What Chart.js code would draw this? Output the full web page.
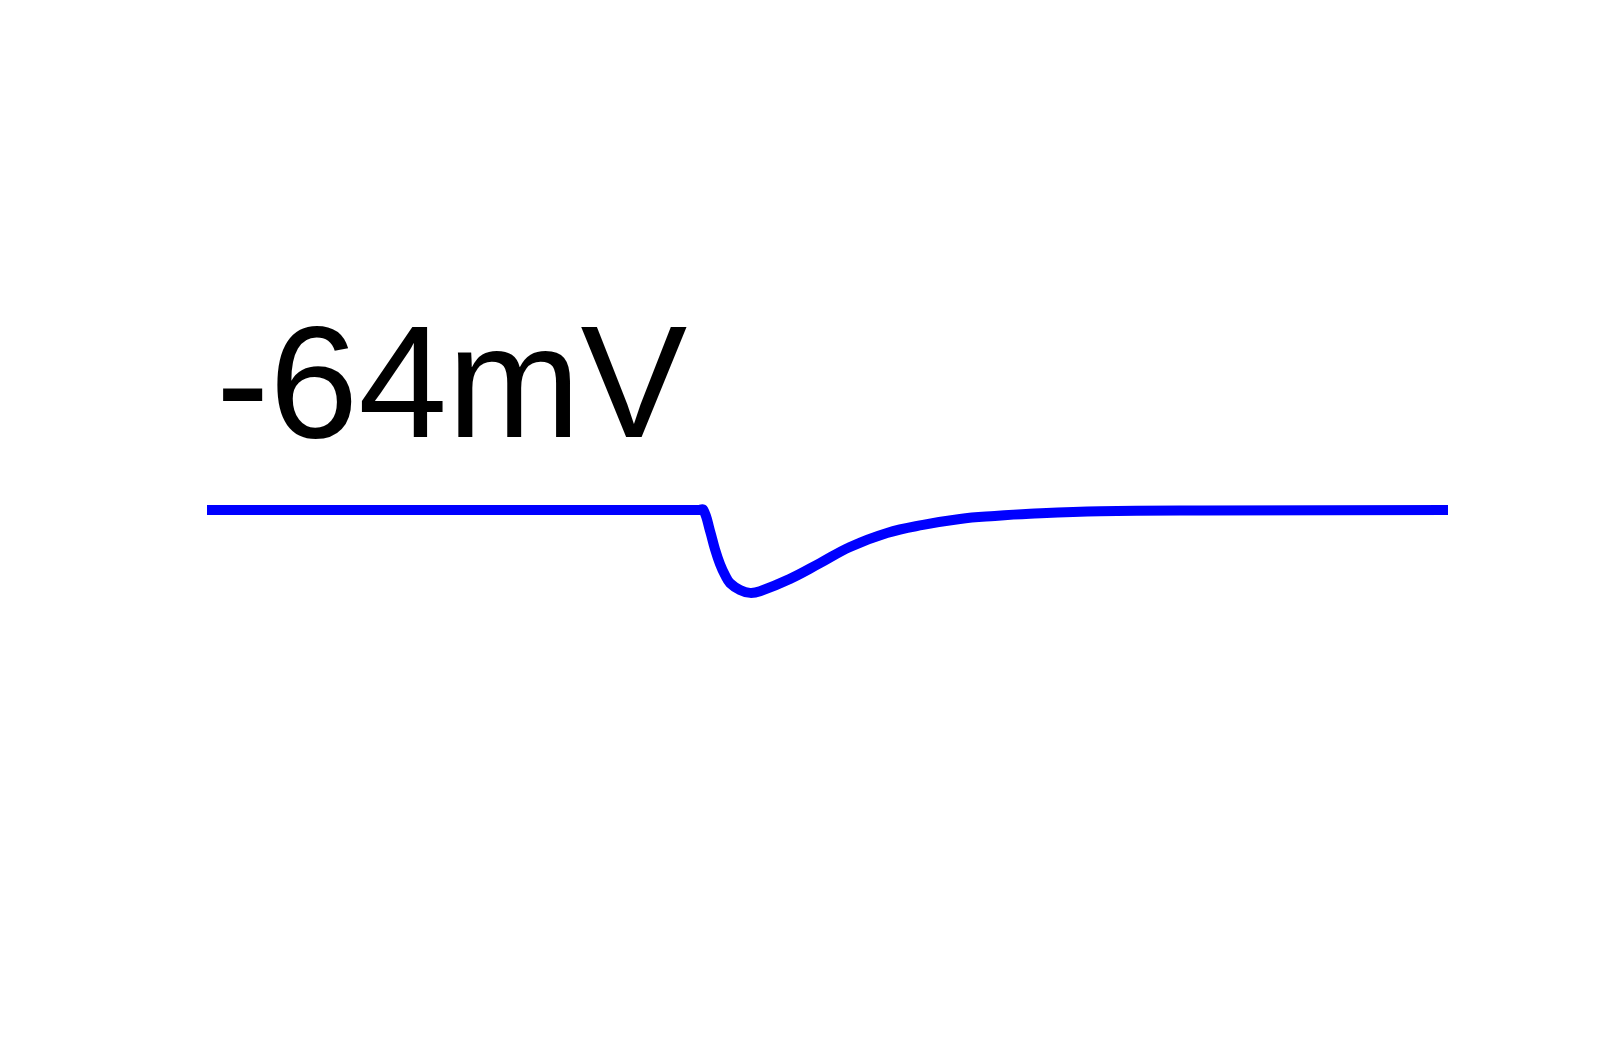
<!DOCTYPE html>
<html>
<head>
<meta charset="utf-8">
<script src="https://cdn.jsdelivr.net/npm/chart.js@4"></script>
<style>
  html, body { margin: 0; padding: 0; background: #fff; }
  #wrap { width: 1600px; height: 1049px; }
</style>
</head>
<body>
<div id="wrap"><canvas id="trace" width="1600" height="1049"></canvas></div>
<script>
// membrane potential trace, time in ms, voltage in mV
const times = [0, 99, 100, 101.33, 102.33, 103.34, 104.35, 105.36, 107.37, 109.39, 111.4, 117.45, 123.49, 129.53, 136.99, 144.24, 151.69, 158.7, 165.79, 179.9, 200, 250];
const volts = [-64, -64, -64, -64.49, -64.92, -65.27, -65.53, -65.72, -65.88, -65.95, -65.91, -65.62, -65.25, -64.87, -64.54, -64.35, -64.21, -64.14, -64.09, -64.03, -64.01, -64.0];
const restLabel = '-64mV';

const points = times.map((t, i) => ({ x: t, y: volts[i] }));

// label above the trace
const labelPlugin = {
    id: 'restLabel',
    afterDraw(chart) {
        const c = chart.ctx;
        c.save();
        c.fillStyle = '#000';
        c.font = '160px "Liberation Sans", Arial, sans-serif';
        c.textBaseline = 'alphabetic';
        c.fillText(restLabel, 216, 437);
        c.restore();
    }
};

const ctx = document.getElementById('trace').getContext('2d');
const traceChart = new Chart(ctx, {
    type: 'line',
    data: {
        datasets: [{
            data: points,
            borderColor: '#0000ff',
            borderWidth: 10,
            pointRadius: 0,
            fill: false,
            tension: 0.4,
            clip: false
        }]
    },
    options: {
        responsive: false,
        animation: false,
        layout: { padding: { left: 207, right: 152, top: 255, bottom: 284 } },
        plugins: { legend: { display: false }, tooltip: { enabled: false } },
        scales: {
            x: { type: 'linear', min: 0, max: 250, display: false },
            y: { min: -70, max: -58, display: false }
        }
    },
    plugins: [labelPlugin]
});
</script>
</body>
</html>
